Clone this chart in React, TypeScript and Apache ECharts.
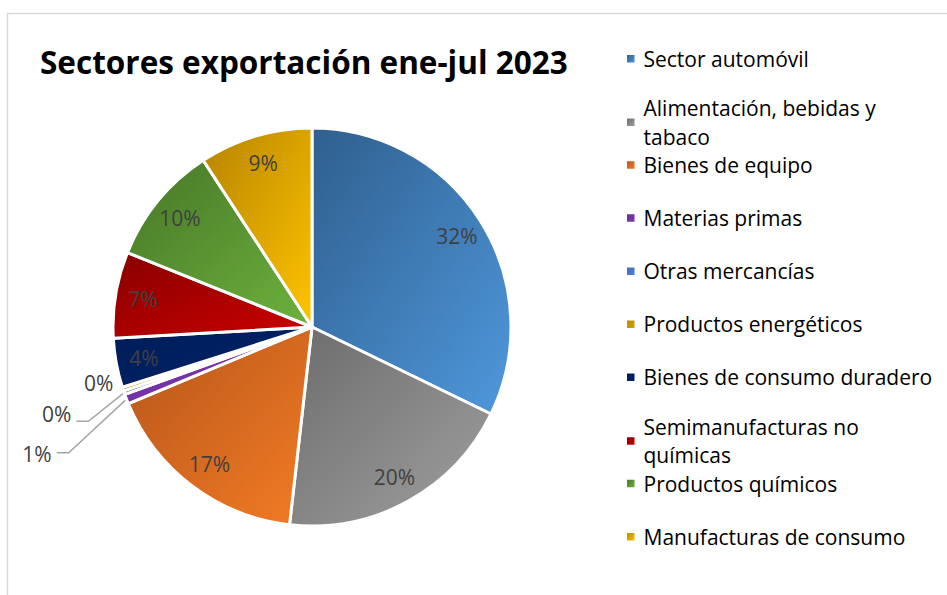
import React, { useEffect, useRef } from 'react';
import * as echarts from 'echarts';

const chartTitle = 'Sectores exportación ene-jul 2023';

const categories = [
  'Sector automóvil',
  'Alimentación, bebidas y tabaco',
  'Bienes de equipo',
  'Materias primas',
  'Otras mercancías',
  'Productos energéticos',
  'Bienes de consumo duradero',
  'Semimanufacturas no químicas',
  'Productos químicos',
  'Manufacturas de consumo',
];

const legendLabels = [
  'Sector automóvil',
  'Alimentación, bebidas y\ntabaco',
  'Bienes de equipo',
  'Materias primas',
  'Otras mercancías',
  'Productos energéticos',
  'Bienes de consumo duradero',
  'Semimanufacturas no\nquímicas',
  'Productos químicos',
  'Manufacturas de consumo',
];

// share of exports, %
const shares = [32.2, 19.6, 16.9, 0.8, 0.3, 0.3, 4.0, 7.0, 9.7, 9.2];

// style palette (gradient start / end per slice)
const palette: [string, string][] = [
  ['#2f5f8e', '#4f98dc'],
  ['#6c6c6c', '#a0a0a0'],
  ['#b5551a', '#f37c25'],
  ['#6a2b9a', '#7d3bb2'],
  ['#3e6cbc', '#4f80d4'],
  ['#b88a00', '#d6a200'],
  ['#001d58', '#00236a'],
  ['#880000', '#cc0000'],
  ['#477627', '#6db23d'],
  ['#b68300', '#ffc400'],
];

const FONT = '"Open Sans", "Noto Sans", sans-serif';
const LABEL_COLOR = '#404040';

export default function App() {
  const ref = useRef<HTMLDivElement>(null);

  useEffect(() => {
    if (!ref.current) return;
    const chart = echarts.init(ref.current, undefined, { renderer: 'svg' });

    // leader-line layout for the tiny slices (styling only)
    const smallLeader: Record<number, { len: number; len2: number; line: boolean }> = {
      3: { len: 62, len2: 12, line: true },
      4: { len: 36, len2: 12, line: true },
      5: { len: 2, len2: 0, line: false },
    };

    const pct = (p: any) => Math.round(p.percent) + '%';

    const mainData = categories.map((name, i) => ({
      name,
      value: shares[i],
      itemStyle: {
        color: new echarts.graphic.LinearGradient(0, 0, 1, 1, [
          { offset: 0, color: palette[i][0] },
          { offset: 1, color: palette[i][1] },
        ]),
      },
    }));

    const labelData = categories.map((name, i) => {
      const s = smallLeader[i];
      if (!s) return { name, value: shares[i] };
      return {
        name,
        value: shares[i],
        label: {
          position: 'outside',
          formatter: (p: any) => `{t|${pct(p)}}\n{s| }`,
          rich: {
            t: { fontFamily: FONT, fontSize: 21, lineHeight: 22, color: LABEL_COLOR },
            s: { fontFamily: FONT, fontSize: 2, lineHeight: 14, color: 'rgba(0,0,0,0)' },
          },
        },
        labelLine: {
          show: s.line,
          length: s.len,
          length2: s.len2,
          lineStyle: { color: '#a6a6a6', width: 1.5 },
        },
      };
    });

    const legends = categories.map((name, i) => ({
      data: [name],
      orient: 'vertical',
      left: 625,
      top: 44.5 + i * 53.1,
      padding: 0,
      itemWidth: 9.5,
      itemHeight: 9.5,
      icon: 'rect',
      selectedMode: false,
      formatter: () => legendLabels[i],
      textStyle: {
        fontFamily: FONT,
        fontSize: 21,
        color: '#000000',
        lineHeight: 28.5,
        height: 28.5,
        padding: [0, 0, 0, 3],
      },
    }));

    chart.setOption({
      animation: false,
      backgroundColor: '#ffffff',
      title: {
        text: chartTitle,
        left: 40,
        top: 45,
        padding: 0,
        textStyle: { fontFamily: FONT, fontSize: 31.5, fontWeight: 'bold', color: '#000000' },
      },
      legend: legends,
      graphic: [
        {
          type: 'rect',
          silent: true,
          z: -10,
          shape: { x: 7.5, y: 13.5, width: 1000, height: 700 },
          style: { fill: 'none', stroke: '#d9d9d9', lineWidth: 1.5 },
        },
      ],
      series: [
        {
          type: 'pie',
          name: 'main',
          center: [312, 327],
          radius: [0, 199],
          startAngle: 90,
          clockwise: true,
          silent: true,
          label: { show: false },
          labelLine: { show: false },
          emphasis: { disabled: true },
          itemStyle: { borderColor: '#ffffff', borderWidth: 3 },
          data: mainData,
        },
        {
          type: 'pie',
          name: 'labels',
          center: [312, 327],
          radius: [137, 199],
          startAngle: 90,
          clockwise: true,
          silent: true,
          legendHoverLink: false,
          emphasis: { disabled: true },
          itemStyle: { color: 'rgba(0,0,0,0)', borderWidth: 0 },
          label: {
            show: true,
            position: 'inside',
            formatter: pct,
            fontFamily: FONT,
            fontSize: 21,
            color: LABEL_COLOR,
          },
          labelLine: { show: false },
          labelLayout: (params: any) => (params.dataIndex === 3 ? { dy: 8 } : {}),
          data: labelData,
        },
      ],
    });

    return () => chart.dispose();
  }, []);

  return (
    <div
      ref={ref}
      style={{ position: 'fixed', left: 0, top: 0, width: 947, height: 595 }}
    />
  );
}
